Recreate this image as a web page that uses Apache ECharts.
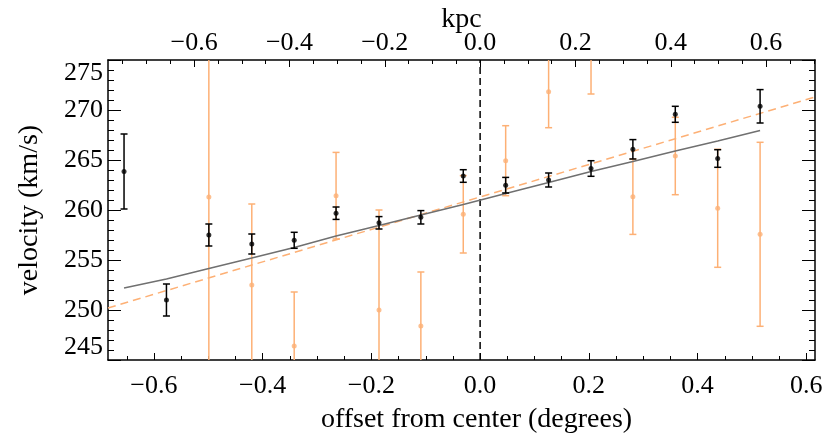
<!DOCTYPE html>
<html>
<head>
<meta charset="utf-8">
<script src="https://cdn.jsdelivr.net/npm/echarts@6/dist/echarts.min.js"></script>
<style>html,body{margin:0;padding:0;background:#fff}#c{width:830px;height:440px}</style>
</head>
<body>
<div id="c"></div>
<script>
// ---- data ----
const blackX   = [-0.655, -0.577, -0.499, -0.420, -0.342, -0.265, -0.186, -0.109, -0.031, 0.047, 0.126, 0.204, 0.281, 0.359, 0.437, 0.515];
const blackV   = [263.85, 251.0, 257.5, 256.6, 256.97, 259.68, 258.72, 259.27, 263.4, 262.48, 263.0, 264.15, 266.07, 269.57, 265.15, 270.37];
const blackErr = [3.75, 1.6, 1.1, 1.0, 0.8, 0.62, 0.62, 0.67, 0.63, 0.78, 0.7, 0.78, 0.97, 0.8, 0.88, 1.67];

const orangeX   = [-0.499, -0.420, -0.342, -0.265, -0.186, -0.109, -0.031, 0.047, 0.126, 0.204, 0.281, 0.359, 0.437, 0.515];
const orangeV   = [261.3, 252.5, 246.4, 261.43, 250.0, 248.4, 259.57, 264.93, 271.83, 275.6, 261.33, 265.4, 260.17, 257.57];
const orangeErr = [17, 8.1, 5.4, 4.33, 10, 5.4, 3.87, 3.5, 3.6, 4.0, 3.77, 3.87, 5.9, 9.2];

const modelV = [252.2, 253.1, 254.15, 255.2, 256.25, 257.4, 258.45, 259.5, 260.55, 261.65, 262.75, 263.85, 264.85, 265.9, 266.9, 267.95];

const fitX = [-0.6845, 0.616];
const fitV = [250.2, 271.3];

const centerX = [0, 0];
const centerV = [245, 275];

// axis ranges / ticks
const degMin = -0.6845, degMax = 0.616;
const kpcMin = -0.7807, kpcMax = 0.7026;
const yMin = 245, yMax = 275, yStep = 5;
const degMajor = [-0.6, -0.4, -0.2, 0.0, 0.2, 0.4, 0.6];
const degMinor = [-0.65, -0.55, -0.5, -0.45, -0.35, -0.3, -0.25, -0.15, -0.1, -0.05, 0.05, 0.1, 0.15, 0.25, 0.3, 0.35, 0.45, 0.5, 0.55];
const kpcMajor = [-0.6, -0.4, -0.2, 0.0, 0.2, 0.4, 0.6];
const kpcMinor = [-0.75, -0.7, -0.65, -0.55, -0.5, -0.45, -0.35, -0.3, -0.25, -0.15, -0.1, -0.05, 0.05, 0.1, 0.15, 0.25, 0.3, 0.35, 0.45, 0.5, 0.55, 0.65, 0.7];

const FONT = 'Liberation Serif';
const ORANGE = '#fdb075';
const fmt = v => { const s = Number(v).toFixed(1); return s.replace('-', '\u2212'); };

const zip3 = (a, b, c) => a.map((x, i) => [x, b[i], c[i]]);
const zip2 = (a, b) => a.map((x, i) => [x, b[i]]);

function errBar(color, width, cap) {
  return function (params, api) {
    const x = api.value(0), v = api.value(1), e = api.value(2);
    const t = api.coord([x, v + e]);
    const b = api.coord([x, v - e]);
    const st = { stroke: color, lineWidth: width };
    return {
      type: 'group',
      children: [
        { type: 'line', shape: { x1: t[0], y1: t[1], x2: b[0], y2: b[1] }, style: st },
        { type: 'line', shape: { x1: t[0] - cap, y1: t[1], x2: t[0] + cap, y2: t[1] }, style: st },
        { type: 'line', shape: { x1: b[0] - cap, y1: b[1], x2: b[0] + cap, y2: b[1] }, style: st }
      ]
    };
  };
}

const tickLabel = { color: '#000', fontFamily: FONT, fontSize: 26 };
const titleStyle = { color: '#000', fontFamily: FONT, fontSize: 28 };
const axisLineStyle = { show: true, onZero: false, lineStyle: { color: '#000', width: 1.5 } };

const chart = echarts.init(document.getElementById('c'), null, { renderer: 'canvas' });
chart.setOption({
  animation: false,
  backgroundColor: '#fff',
  grid: { left: 108, right: 15, top: 60, bottom: 80, containLabel: false, outerBoundsMode: 'none' },
  xAxis: [
    {
      type: 'value', position: 'bottom', min: degMin, max: degMax,
      name: 'offset from center (degrees)', nameLocation: 'middle', nameGap: 46, nameMoveOverlap: false,
      nameTextStyle: Object.assign({ padding: [0, 0, 0, 30] }, titleStyle),
      axisLine: axisLineStyle,
      axisTick: { show: true, inside: true, length: 7, customValues: degMajor, lineStyle: { color: '#000', width: 1 } },
      axisLabel: Object.assign({ customValues: degMajor, formatter: fmt, margin: 13 }, tickLabel),
      splitLine: { show: false }
    },
    {
      type: 'value', position: 'bottom', min: degMin, max: degMax,
      axisLine: { show: false, onZero: false },
      axisTick: { show: true, inside: true, length: 4, customValues: degMinor, lineStyle: { color: '#000', width: 1 } },
      axisLabel: { show: false },
      splitLine: { show: false }
    },
    {
      type: 'value', position: 'top', min: kpcMin, max: kpcMax,
      name: 'kpc', nameLocation: 'middle', nameGap: 26, nameMoveOverlap: false,
      nameTextStyle: titleStyle,
      axisLine: axisLineStyle,
      axisTick: { show: true, inside: true, length: 7, customValues: kpcMajor, lineStyle: { color: '#000', width: 1 } },
      axisLabel: Object.assign({ customValues: kpcMajor, formatter: fmt, margin: 4 }, tickLabel),
      splitLine: { show: false }
    },
    {
      type: 'value', position: 'top', min: kpcMin, max: kpcMax,
      axisLine: { show: false, onZero: false },
      axisTick: { show: true, inside: true, length: 4, customValues: kpcMinor, lineStyle: { color: '#000', width: 1 } },
      axisLabel: { show: false },
      splitLine: { show: false }
    }
  ],
  yAxis: [
    {
      type: 'value', position: 'left', min: yMin, max: yMax, interval: yStep,
      name: 'velocity (km/s)', nameLocation: 'middle', nameGap: 64, nameMoveOverlap: false,
      nameTextStyle: titleStyle,
      axisLine: axisLineStyle,
      axisTick: { show: true, inside: true, length: 13, lineStyle: { color: '#000', width: 1 } },
      minorTick: { show: true, splitNumber: 5, length: 6, lineStyle: { color: '#000', width: 1 } },
      axisLabel: Object.assign({ margin: 5, verticalAlignMaxLabel: 'top', verticalAlignMinLabel: 'bottom' }, tickLabel),
      splitLine: { show: false }, minorSplitLine: { show: false }
    },
    {
      type: 'value', position: 'right', min: yMin, max: yMax, interval: yStep,
      axisLine: axisLineStyle,
      axisTick: { show: true, inside: true, length: 13, lineStyle: { color: '#000', width: 1 } },
      minorTick: { show: true, splitNumber: 5, length: 6, lineStyle: { color: '#000', width: 1 } },
      axisLabel: { show: false },
      splitLine: { show: false }, minorSplitLine: { show: false }
    }
  ],
  series: [
    {
      type: 'line', xAxisIndex: 0, yAxisIndex: 0, data: zip2(centerX, centerV),
      symbol: 'none', lineStyle: { color: '#000', width: 1.5, type: [7, 4] }, silent: true, z: 1
    },
    {
      type: 'line', xAxisIndex: 0, yAxisIndex: 0, data: zip2(fitX, fitV),
      symbol: 'none', lineStyle: { color: ORANGE, width: 1.5, type: [8, 5] }, silent: true, z: 2
    },
    {
      type: 'custom', xAxisIndex: 0, yAxisIndex: 0, clip: true,
      data: zip3(orangeX, orangeV, orangeErr), renderItem: errBar(ORANGE, 1.5, 3.5), z: 3
    },
    {
      type: 'scatter', xAxisIndex: 0, yAxisIndex: 0, clip: true,
      data: zip2(orangeX, orangeV), symbol: 'circle', symbolSize: 5,
      itemStyle: { color: ORANGE }, z: 4
    },
    {
      type: 'line', xAxisIndex: 0, yAxisIndex: 0, data: zip2(blackX, modelV),
      symbol: 'none', lineStyle: { color: '#707070', width: 1.5 }, silent: true, z: 5
    },
    {
      type: 'custom', xAxisIndex: 0, yAxisIndex: 0, clip: true,
      data: zip3(blackX, blackV, blackErr), renderItem: errBar('#000', 1.5, 3.5), z: 6
    },
    {
      type: 'scatter', xAxisIndex: 0, yAxisIndex: 0, clip: true,
      data: zip2(blackX, blackV), symbol: 'circle', symbolSize: 5,
      itemStyle: { color: '#000' }, z: 7
    }
  ]
});
</script>
</body>
</html>
